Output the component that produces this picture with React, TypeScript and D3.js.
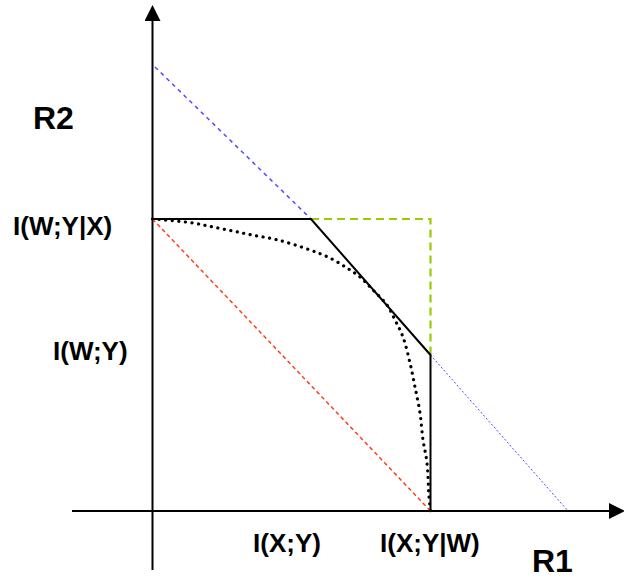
import { useEffect, useRef } from 'react'
import * as d3 from 'd3'

// region corners, in information units
const iXYgivenW = 2.78
const iWYgivenX = 2.92
const iWY = 1.56
const cornerX = 1.585

const blackEdge: [number, number][] = [
  [0, iWYgivenX],
  [cornerX, iWYgivenX],
  [iXYgivenW, iWY],
  [iXYgivenW, 0],
]
const greenBox: [number, number][] = [
  [cornerX, iWYgivenX],
  [iXYgivenW, iWYgivenX],
  [iXYgivenW, iWY],
]
const redLine: [number, number][] = [
  [0, iWYgivenX],
  [iXYgivenW, 0],
]
const blueUpper: [number, number][] = [
  [0.025, 4.44],
  [cornerX, iWYgivenX],
]
const blueLower: [number, number][] = [
  [iXYgivenW, iWY],
  [4.155, 0],
]
const dottedCurve: [number, number][] = [
  [0, 2.92], [0.125, 2.91], [0.405, 2.88], [0.605, 2.84], [0.805, 2.8],
  [0.995, 2.76], [1.255, 2.71], [1.575, 2.61], [1.775, 2.53], [1.945, 2.43],
  [2.075, 2.34], [2.205, 2.21], [2.345, 2.06], [2.425, 1.91], [2.505, 1.74],
  [2.575, 1.48], [2.625, 1.24], [2.675, 0.98], [2.705, 0.71], [2.745, 0.48],
  [2.765, 0.14], [2.78, 0],
]

const yLabels = [
  { text: 'I(W;Y|X)', x: 13, y: 235 },
  { text: 'I(W;Y)', x: 53, y: 360 },
]
const xLabels = [
  { text: 'I(X;Y)', x: 253, y: 552 },
  { text: 'I(X;Y|W)', x: 380, y: 552 },
]
const axisTitles = [
  { text: 'R2', x: 33, y: 129 },
  { text: 'R1', x: 532, y: 572 },
]

function RateRegion() {
  const ref = useRef<SVGSVGElement | null>(null)

  useEffect(() => {
    const svg = d3.select(ref.current)
    svg.selectAll('*').remove()

    const x = d3.scaleLinear().domain([0, 1]).range([152.5, 252.5])
    const y = d3.scaleLinear().domain([0, 1]).range([511, 411])
    const line = d3.line<[number, number]>().x((d) => x(d[0])).y((d) => y(d[1]))

    const defs = svg.append('defs')
    defs
      .append('marker')
      .attr('id', 'arrow')
      .attr('viewBox', '0 0 10 10')
      .attr('refX', 0)
      .attr('refY', 5)
      .attr('markerWidth', 16)
      .attr('markerHeight', 16)
      .attr('markerUnits', 'userSpaceOnUse')
      .attr('orient', 'auto')
      .append('path')
      .attr('d', 'M0,0 L10,5 L0,10 Z')
      .attr('fill', '#000')

    // axes
    svg
      .append('line')
      .attr('x1', x(-0.805))
      .attr('y1', y(0))
      .attr('x2', 609)
      .attr('y2', y(0))
      .attr('stroke', '#000')
      .attr('stroke-width', 2)
      .attr('marker-end', 'url(#arrow)')
    svg
      .append('line')
      .attr('x1', x(0))
      .attr('y1', y(-0.59))
      .attr('x2', x(0))
      .attr('y2', 21)
      .attr('stroke', '#000')
      .attr('stroke-width', 2)
      .attr('marker-end', 'url(#arrow)')

    const path = (pts: [number, number][], color: string, width: number, dash?: string) =>
      svg
        .append('path')
        .attr('d', line(pts))
        .attr('fill', 'none')
        .attr('stroke', color)
        .attr('stroke-width', width)
        .attr('stroke-dasharray', dash ?? null)

    path(blueUpper, '#4d4dff', 1.5, '4 4')
    path(blueLower, '#4d4dff', 1, '2 2')
    path(redLine, '#ff3f1a', 1.5, '4 3')
    path(greenBox, '#99cc00', 2.2, '8 5')
    path(blackEdge, '#000', 2)

    svg
      .append('path')
      .attr('d', line.curve(d3.curveCatmullRom)(dottedCurve))
      .attr('fill', 'none')
      .attr('stroke', '#000')
      .attr('stroke-width', 3.2)
      .attr('stroke-linecap', 'round')
      .attr('stroke-dasharray', '0.1 6.5')

    const label = (d: { text: string; x: number; y: number }, size: number) =>
      svg
        .append('text')
        .attr('x', d.x)
        .attr('y', d.y)
        .attr('font-family', '"Liberation Sans", Arial, sans-serif')
        .attr('font-weight', 'bold')
        .attr('font-size', size)
        .attr('fill', '#000')
        .text(d.text)

    yLabels.forEach((d) => label(d, 26))
    xLabels.forEach((d) => label(d, 26))
    axisTitles.forEach((d) => label(d, 32))
  }, [])

  return (
    <svg
      ref={ref}
      width={624}
      height={579}
      style={{ position: 'absolute', left: 0, top: 0, background: '#fff' }}
    />
  )
}

export default function App() {
  return <RateRegion />
}
